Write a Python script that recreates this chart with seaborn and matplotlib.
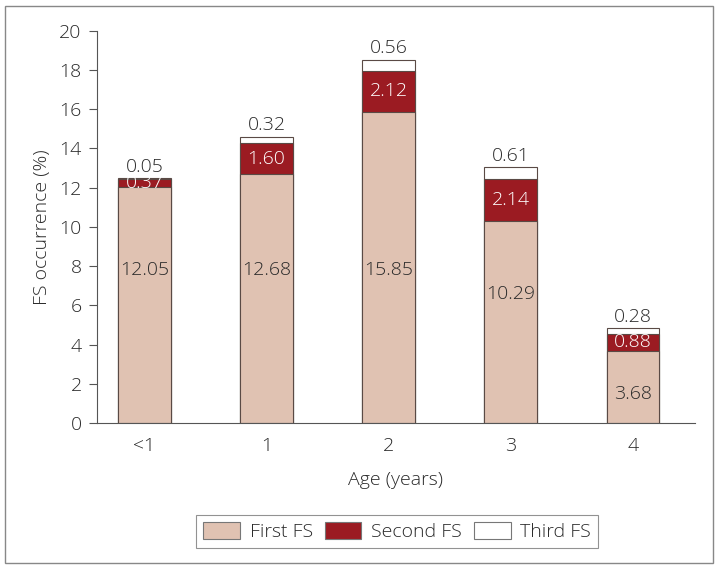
import numpy as np
import pandas as pd
import seaborn as sns
import matplotlib.pyplot as plt
from matplotlib.patches import Rectangle, Patch

ages = ["<1", "1", "2", "3", "4"]
first_fs = [12.05, 12.68, 15.85, 10.29, 3.68]
second_fs = [0.37, 1.60, 2.12, 2.14, 0.88]
third_fs = [0.05, 0.32, 0.56, 0.61, 0.28]
first_label_y = [7.8, 7.8, 7.8, 6.6, 1.5]

sns.set_theme(style="white")
plt.rcParams["font.family"] = ["Open Sans", "DejaVu Sans"]
plt.rcParams["font.weight"] = "light"
plt.rcParams["axes.labelweight"] = "light"

c_first = "#e0c2b2"
c_second = "#9b1b22"
c_third = "#ffffff"
edge = "#5a4a45"
txt = "#2a2a2a"
fs = 14

df = pd.DataFrame({"age": ages, "first": first_fs, "second": second_fs, "third": third_fs})
df["s2"] = df["first"] + df["second"]
df["s3"] = df["s2"] + df["third"]

fig = plt.figure(figsize=(7.18, 5.70), dpi=100)
ax = fig.add_axes([0.135, 0.258, 0.833, 0.688])

for col, color in [("s3", c_third), ("s2", c_second), ("first", c_first)]:
    sns.barplot(data=df, x="age", y=col, color=color, width=0.43,
                edgecolor=edge, linewidth=0.8, saturation=1, ax=ax)

for i in range(len(ages)):
    ax.text(i, first_label_y[i], f"{first_fs[i]:.2f}", ha="center", va="center",
            fontsize=fs, color=txt)
    ax.text(i, first_fs[i] + second_fs[i] / 2, f"{second_fs[i]:.2f}", ha="center",
            va="center", fontsize=fs, color="white")
    ax.text(i, df["s3"][i] + 0.12, f"{third_fs[i]:.2f}", ha="center", va="bottom",
            fontsize=fs, color=txt)

ax.set_xlim(-0.39, 4.51)
ax.set_ylim(0, 20)
ax.set_yticks(np.arange(0, 21, 2))
ax.tick_params(axis="y", length=6, width=0.8, color="#555555", labelsize=fs,
               labelcolor=txt, left=True, pad=5)
ax.tick_params(axis="x", length=0, labelsize=fs, labelcolor=txt, pad=10)
for s in ["top", "right"]:
    ax.spines[s].set_visible(False)
for s in ["left", "bottom"]:
    ax.spines[s].set_color("#555555")
    ax.spines[s].set_linewidth(0.8)
ax.set_xlabel("Age (years)", fontsize=fs, color=txt, labelpad=12)
ax.set_ylabel("FS occurrence (%)", fontsize=fs, color=txt, labelpad=6)

handles = [Patch(facecolor=c, edgecolor="#777777", linewidth=0.8)
           for c in (c_first, c_second, c_third)]
leg = fig.legend(handles, ["First FS", "Second FS", "Third FS"], ncol=3,
                 loc="center", bbox_to_anchor=(0.553, 0.068), fontsize=fs,
                 frameon=True, fancybox=False, edgecolor="#777777",
                 handlelength=1.9, handleheight=1.0, columnspacing=0.6,
                 handletextpad=0.5, borderpad=0.35)
leg.get_frame().set_linewidth(0.8)
for t in leg.get_texts():
    t.set_color(txt)

fig.patches.append(Rectangle((0.007, 0.012), 0.986, 0.978, transform=fig.transFigure,
                             fill=False, edgecolor="#888888", linewidth=1.0))

fig.savefig("out.png", dpi=100)
